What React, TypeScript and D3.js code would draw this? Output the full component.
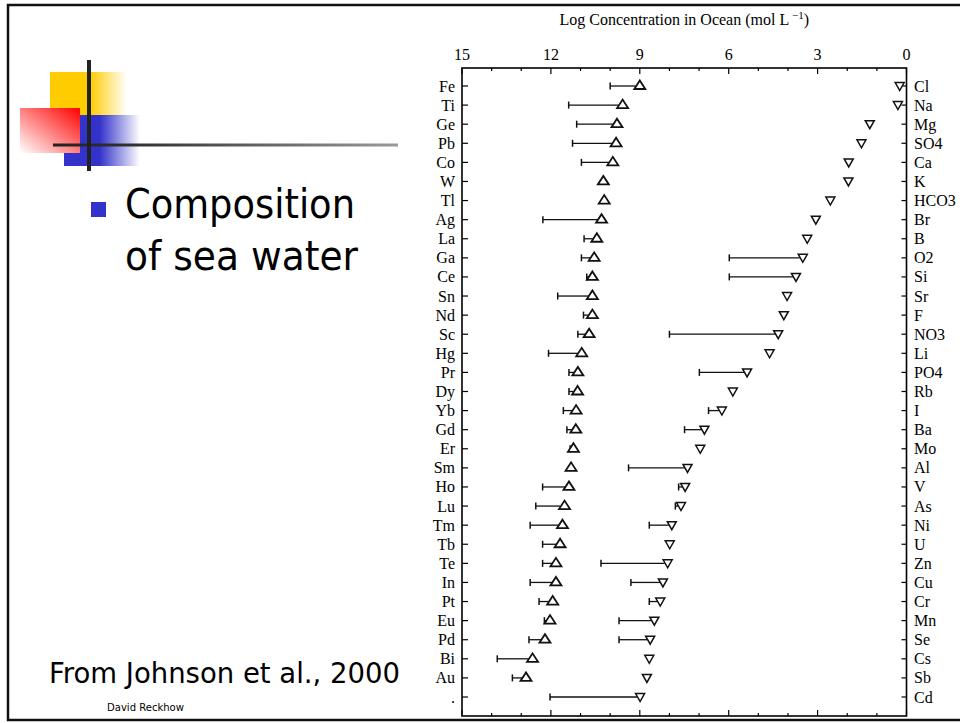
import { useEffect } from "react";
import * as d3 from "d3";

// left column: trace elements (open up-triangles), right column: major species (open down-triangles)
const leftElements = ["Fe", "Ti", "Ge", "Pb", "Co", "W", "Tl", "Ag", "La", "Ga", "Ce", "Sn", "Nd", "Sc", "Hg", "Pr", "Dy", "Yb", "Gd", "Er", "Sm", "Ho", "Lu", "Tm", "Tb", "Te", "In", "Pt", "Eu", "Pd", "Bi", "Au", "."];
const leftValues = [9.0, 9.58, 9.77, 9.8, 9.91, 10.23, 10.2, 10.29, 10.45, 10.54, 10.6, 10.6, 10.6, 10.71, 10.96, 11.09, 11.1, 11.15, 11.16, 11.24, 11.32, 11.39, 11.54, 11.61, 11.69, 11.83, 11.83, 11.94, 12.03, 12.2, 12.62, 12.84, null];
const leftRange = [10.0, 11.4, 11.13, 11.27, 10.97, null, null, 12.27, 10.88, 10.97, 10.79, 11.77, 10.9, 11.09, 12.08, 11.39, 11.39, 11.58, 11.46, 11.35, null, 12.28, 12.51, 12.7, 12.28, 12.28, 12.7, 12.4, 12.22, 12.74, 13.81, 13.3, null];

const rightElements = ["Cl", "Na", "Mg", "SO4", "Ca", "K", "HCO3", "Br", "B", "O2", "Si", "Sr", "F", "NO3", "Li", "PO4", "Rb", "I", "Ba", "Mo", "Al", "V", "As", "Ni", "U", "Zn", "Cu", "Cr", "Mn", "Se", "Cs", "Sb", "Cd"];
const rightValues = [0.23, 0.29, 1.24, 1.52, 1.95, 1.96, 2.57, 3.06, 3.35, 3.5, 3.73, 4.03, 4.14, 4.33, 4.62, 5.38, 5.86, 6.23, 6.82, 6.96, 7.39, 7.47, 7.61, 7.92, 7.99, 8.06, 8.22, 8.31, 8.51, 8.65, 8.68, 8.76, 8.99];
const rightRange = [null, null, null, null, null, null, null, null, null, 5.98, 5.98, null, null, 8.0, null, 6.99, null, 6.68, 7.49, null, 9.38, 7.69, 7.8, 8.68, null, 10.31, 9.3, 8.68, 9.7, 9.7, null, null, 12.03];

const xDomain = [15, 0];
const majorTicks = [15, 12, 9, 6, 3, 0];

const serif = "'Liberation Serif', 'DejaVu Serif', serif";
const sans = "'DejaVu Sans', Verdana, sans-serif";

function Chart() {
  const left = 462;
  const right = 906.5;
  const top = 68;
  const bottom = 716;

  const x = d3.scaleLinear().domain(xDomain).range([left, right]);
  const y = d3
    .scalePoint<number>()
    .domain(d3.range(leftElements.length))
    .range([86, 697]);

  const minorTicks = d3.range(0, 16);

  const upTri = (cx: number, cy: number) =>
    `M${cx - 5.5},${cy + 3} L${cx + 5.5},${cy + 3} L${cx},${cy - 5.5} Z`;
  const downTri = (cx: number, cy: number) =>
    `M${cx - 4.5},${cy - 3.5} L${cx + 4.5},${cy - 3.5} L${cx},${cy + 4.5} Z`;

  return (
    <g>
      <text x={(left + right) / 2} y={25} textAnchor="middle" fontFamily={serif} fontSize={16}>
        Log Concentration in Ocean (mol L
        <tspan dy={-6} fontSize={11}> −1</tspan>
        <tspan dy={6}>)</tspan>
      </text>

      {majorTicks.map((t) => (
        <text key={"tl" + t} x={x(t)} y={60} textAnchor="middle" fontFamily={serif} fontSize={16}>
          {t}
        </text>
      ))}

      {/* frame */}
      <rect x={left} y={top} width={right - left} height={bottom - top} fill="none" stroke="#000" strokeWidth={1.6} />

      {/* top / bottom ticks */}
      {minorTicks.map((t) => {
        const len = t % 3 === 0 ? 6 : 3;
        return (
          <g key={"tk" + t} stroke="#000" strokeWidth={1.2}>
            <line x1={x(t)} x2={x(t)} y1={top} y2={top + len} />
            <line x1={x(t)} x2={x(t)} y1={bottom} y2={bottom - len} />
          </g>
        );
      })}

      {/* row ticks and labels */}
      {leftElements.map((name, i) => (
        <g key={"row" + i}>
          <line x1={left} x2={left + 6} y1={y(i)} y2={y(i)} stroke="#000" strokeWidth={1.2} />
          <line x1={right} x2={right - 5} y1={y(i)} y2={y(i)} stroke="#000" strokeWidth={1.2} />
          <text x={455} y={y(i)! + 5.5} textAnchor="end" fontFamily={serif} fontSize={16}>
            {name}
          </text>
          <text x={914} y={y(i)! + 5.5} textAnchor="start" fontFamily={serif} fontSize={16}>
            {rightElements[i]}
          </text>
        </g>
      ))}

      {/* left series */}
      {leftElements.map((_, i) => {
        const v = leftValues[i];
        const lo = leftRange[i];
        const cy = y(i)!;
        return (
          <g key={"ls" + i} stroke="#111" fill="none">
            {lo != null && v != null && (
              <>
                <line x1={x(lo)} x2={x(v) - 4} y1={cy} y2={cy} strokeWidth={1.3} />
                <line x1={x(lo)} x2={x(lo)} y1={cy - 3.5} y2={cy + 3.5} strokeWidth={1.5} />
              </>
            )}
            {v != null && <path d={upTri(x(v), cy)} strokeWidth={1.8} fill="#fff" />}
          </g>
        );
      })}

      {/* right series */}
      {rightElements.map((_, i) => {
        const v = rightValues[i];
        const lo = rightRange[i];
        const cy = y(i)!;
        return (
          <g key={"rs" + i} stroke="#111" fill="none">
            {lo != null && (
              <>
                <line x1={x(lo)} x2={x(v) - 3} y1={cy} y2={cy} strokeWidth={1.3} />
                <line x1={x(lo)} x2={x(lo)} y1={cy - 3.5} y2={cy + 3.5} strokeWidth={1.5} />
              </>
            )}
            <path d={downTri(x(v), cy)} strokeWidth={1.5} fill="#fff" />
          </g>
        );
      })}
    </g>
  );
}

function SlideDecor() {
  return (
    <g>
      <defs>
        <linearGradient id="yellowFade" x1="0" y1="0" x2="1" y2="0">
          <stop offset="0" stopColor="#FFCC00" />
          <stop offset="0.52" stopColor="#FFCC00" />
          <stop offset="1" stopColor="#FFCC00" stopOpacity={0} />
        </linearGradient>
        <linearGradient id="blueFade" x1="0" y1="0" x2="1" y2="0">
          <stop offset="0" stopColor="#3333CC" />
          <stop offset="0.47" stopColor="#3333CC" />
          <stop offset="1" stopColor="#3333CC" stopOpacity={0} />
        </linearGradient>
        <linearGradient id="redFade" x1="1" y1="0" x2="0" y2="1">
          <stop offset="0" stopColor="#FF0000" />
          <stop offset="1" stopColor="#FFFFFF" />
        </linearGradient>
        <linearGradient id="lineFade" x1="0" y1="0" x2="1" y2="0">
          <stop offset="0" stopColor="#222" />
          <stop offset="0.25" stopColor="#333" />
          <stop offset="1" stopColor="#9a9a9a" />
        </linearGradient>
      </defs>

      {/* slide frame */}
      <rect x={8} y={5} width={970} height={715} fill="none" stroke="#111" strokeWidth={2.5} />

      <rect x={50} y={72} width={77} height={44} fill="url(#yellowFade)" />
      <rect x={64} y={115} width={76} height={51} fill="url(#blueFade)" />
      <rect x={20} y={108} width={60} height={45} fill="url(#redFade)" />
      <rect x={53} y={143.5} width={345} height={3} fill="url(#lineFade)" />
      <rect x={87} y={60} width={4} height={111} fill="#222" />

      <rect x={91} y={202} width={15} height={15} fill="#3333CC" />
      <text x={125} y={218} fontFamily={sans} fontSize={40} textLength={230} lengthAdjust="spacingAndGlyphs">
        Composition
      </text>
      <text x={125} y={270} fontFamily={sans} fontSize={40} textLength={233} lengthAdjust="spacingAndGlyphs">
        of sea water
      </text>

      <text x={49} y={683} fontFamily={sans} fontSize={27.5} textLength={351} lengthAdjust="spacingAndGlyphs">
        From Johnson et al., 2000
      </text>
      <text x={107} y={711} fontFamily={sans} fontSize={10} textLength={77} lengthAdjust="spacingAndGlyphs">
        David Reckhow
      </text>
    </g>
  );
}

export default function App() {
  useEffect(() => {
    document.body.style.margin = "0";
  }, []);

  return (
    <svg width={960} height={723} style={{ display: "block", background: "#fff" }}>
      <SlideDecor />
      <Chart />
    </svg>
  );
}
